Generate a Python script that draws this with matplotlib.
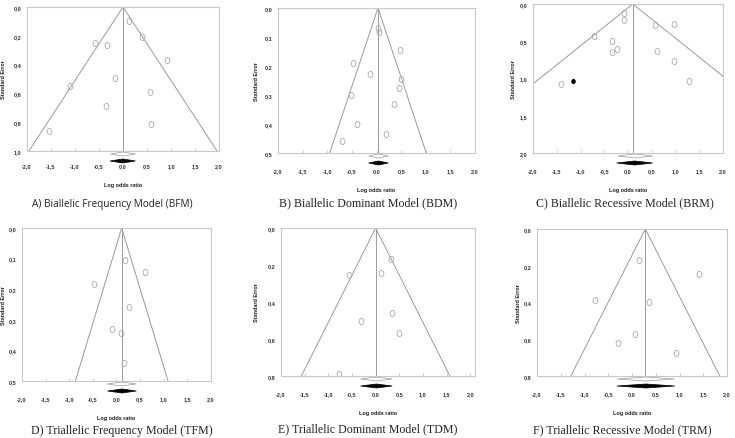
import numpy as np
import matplotlib.pyplot as plt
from matplotlib.path import Path
from matplotlib.patches import Polygon
from matplotlib.ticker import FuncFormatter, MultipleLocator
import matplotlib.transforms as mtransforms

# A) Biallelic Frequency Model
bfm_lor = [0.12, 0.39, -0.59, -0.34, 0.92, -0.17, -1.10, 0.57, -0.36, 0.59, -1.54]
bfm_se = [0.10, 0.21, 0.25, 0.265, 0.37, 0.49, 0.55, 0.59, 0.69, 0.81, 0.86]

# B) Biallelic Dominant Model
bdm_lor = [0.03, 0.06, 0.47, -0.48, -0.14, 0.49, 0.46, -0.51, 0.35, -0.40, 0.20, -0.71]
bdm_se = [0.068, 0.082, 0.146, 0.189, 0.228, 0.246, 0.275, 0.300, 0.332, 0.399, 0.436, 0.459]

# C) Biallelic Recessive Model (plus one filled point)
brm_lor = [-0.08, -0.09, -0.71, 0.57, 0.97, -0.33, -0.23, -0.34, 0.60, 0.97, -1.41, 1.28]
brm_se = [0.125, 0.215, 0.43, 0.28, 0.27, 0.50, 0.61, 0.65, 0.63, 0.77, 1.07, 1.04]
brm_fill_lor = [-1.15]
brm_fill_se = [1.03]

# D) Triallelic Frequency Model
tfm_lor = [0.17, 0.60, -0.48, 0.26, -0.10, 0.09, 0.16]
tfm_se = [0.104, 0.143, 0.183, 0.259, 0.330, 0.342, 0.441]

# E) Triallelic Dominant Model
tdm_lor = [0.33, 0.12, -0.56, 0.35, -0.30, 0.50, -0.77]
tdm_se = [0.17, 0.244, 0.253, 0.458, 0.50, 0.565, 0.79]

# F) Triallelic Recessive Model
trm_lor = [0.15, 1.41, -0.77, 0.36, 0.06, -0.29, 0.92]
trm_se = [0.17, 0.246, 0.384, 0.395, 0.572, 0.621, 0.673]

# pooled estimate and diamond extents (open = observed, filled = adjusted)
pooled = [0.0, 0.03, 0.10, 0.11, 0.0, 0.28]
open_ci = [(-0.26, 0.26), (-0.16, 0.24), (-0.22, 0.52), (-0.20, 0.42), (-0.32, 0.35), (-0.32, 0.90)]
fill_ci = [(-0.27, 0.26), (-0.16, 0.24), (-0.24, 0.52), (-0.19, 0.42), (-0.32, 0.35), (-0.32, 0.90)]

captions = ["A) Biallelic Frequency Model (BFM)",
            "B) Biallelic Dominant Model (BDM)",
            "C) Biallelic Recessive Model (BRM)",
            "D) Triallelic Frequency Model (TFM)",
            "E) Triallelic Dominant Model (TDM)",
            "F) Triallelic Recessive Model (TRM)"]
se_max = [1.0, 0.5, 2.0, 0.5, 0.8, 0.8]
se_step = [0.2, 0.1, 0.5, 0.1, 0.2, 0.2]
x_max = [2.0, 2.0, 2.0, 2.0, 2.1, 2.0]

lors = [bfm_lor, bdm_lor, brm_lor, tfm_lor, tdm_lor, trm_lor]
ses = [bfm_se, bdm_se, brm_se, tfm_se, tdm_se, trm_se]

W, H = 735, 439
# axes boxes in pixels: left, right, top, bottom
boxes = [(27, 219, 8, 152), (278, 475, 9, 154), (533, 723, 5, 154),
         (22, 211, 229, 382), (281, 475, 229, 377), (537, 727, 230, 377)]
cap_pos = [(112, 205), (368, 203), (625, 203), (122, 431), (368, 429), (622, 430)]
ylab_x = [6, 259, 516, 6, 259, 521]
x_pad = [8.5, 11, 11, 11, 11, 11]

# slightly tall open circle, like the original marker
circ = Path.unit_circle()
oval = Path(circ.vertices * np.array([0.78, 1.0]), circ.codes)

fig = plt.figure(figsize=(W / 100, H / 100), dpi=100)
comma = FuncFormatter(lambda v, p: f"{v:.1f}".replace('.', ','))
grey = '#9a9a9a'
tick_font = dict(family='Liberation Sans', weight='bold', size=4)

for i in range(6):
    l, r, t, b = boxes[i]
    ax = fig.add_axes([l / W, (H - b) / H, (r - l) / W, (b - t) / H])
    ymax = se_max[i]
    ax.set_xlim(-2, x_max[i])
    ax.set_ylim(ymax, 0)

    # funnel
    m = pooled[i]
    se_line = np.array([0, ymax])
    ax.plot(m - 1.96 * se_line, se_line, color=grey, lw=0.7)
    ax.plot(m + 1.96 * se_line, se_line, color=grey, lw=0.7)
    ax.plot([m, m], [0, ymax], color=grey, lw=0.7)

    ax.plot(lors[i], ses[i], linestyle='none', marker=oval, ms=4.4,
            mfc='none', mec='#a8a8a8', mew=0.6)
    if i == 2:
        ax.plot(brm_fill_lor, brm_fill_se, linestyle='none', marker=oval,
                ms=3.4, mfc='black', mec='black', mew=0.4)

    # diamonds below the axis
    ah = ax.bbox.height
    trans = mtransforms.blended_transform_factory(ax.transData, ax.transAxes)
    for (lo, hi), dy, fc, ec in [(open_ci[i], 3, 'white', grey),
                                 (fill_ci[i], 10, 'black', 'black')]:
        c = -dy / ah
        hh = 2.0 / ah
        mid = (lo + hi) / 2
        dia = Polygon([(lo, c), (mid, c + hh), (hi, c), (mid, c - hh)],
                      closed=True, transform=trans, clip_on=False,
                      facecolor=fc, edgecolor=ec, lw=0.5)
        ax.add_patch(dia)

    ax.yaxis.set_major_locator(MultipleLocator(se_step[i]))
    ax.xaxis.set_major_formatter(comma)
    ax.yaxis.set_major_formatter(comma)
    ax.set_xticks(np.arange(-2, 2.01, 0.5))
    ax.tick_params(axis='x', direction='in', length=2.5, width=0.5,
                   color='#bbbbbb', pad=x_pad[i])
    ax.tick_params(axis='y', length=0, pad=4)
    for lab in ax.get_xticklabels() + ax.get_yticklabels():
        lab.set(**tick_font, color='#333333')
    for s in ax.spines.values():
        s.set_color('#c8c8c8')
        s.set_linewidth(0.8)

    ax.set_xlabel('Log odds ratio', fontdict=tick_font, color='#222222', labelpad=10)
    ax.set_ylabel('Standard Error', fontdict=tick_font, color='#222222')
    ax.yaxis.set_label_coords((ylab_x[i] - l) / (r - l), 0.5)

    cx, cy = cap_pos[i]
    fam = 'Open Sans' if i == 0 else 'Liberation Serif'
    fs = 7.2 if i == 0 else 8.6
    fig.text(cx / W, (H - cy) / H, captions[i], ha='center', va='center',
             family=fam, fontsize=fs, color='#222222')

fig.savefig('out.png', dpi=100)
